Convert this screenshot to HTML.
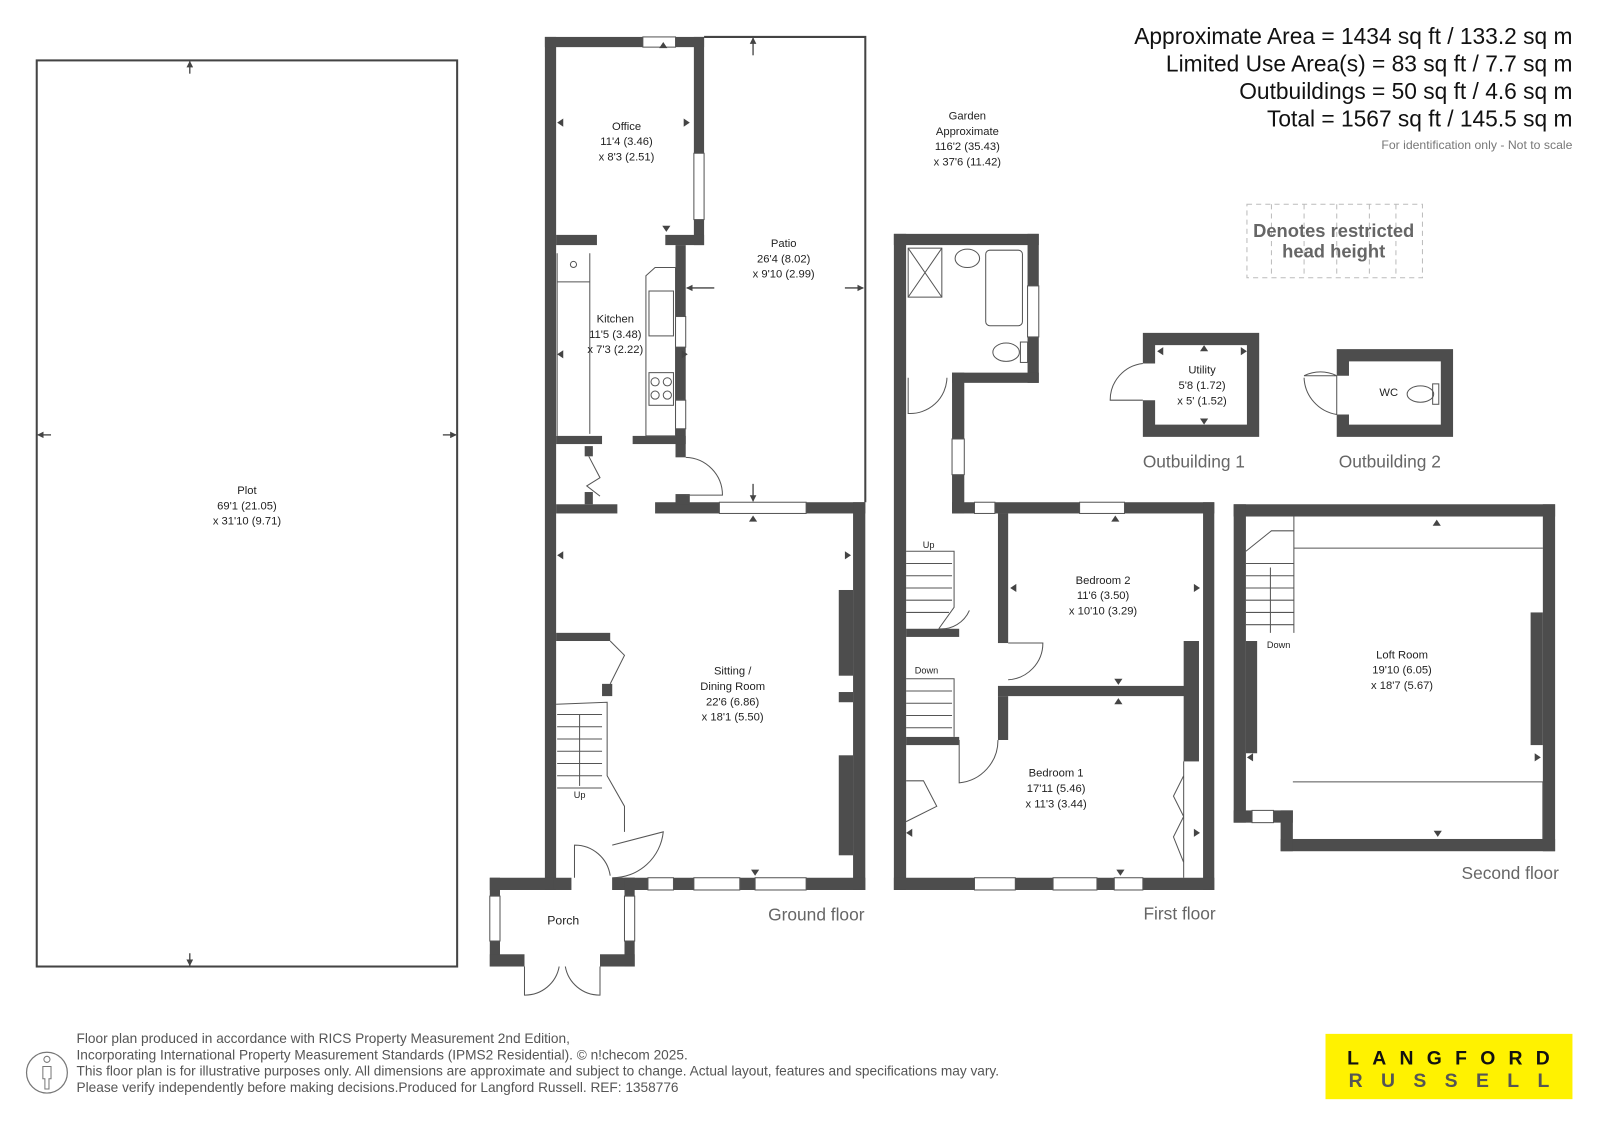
<!DOCTYPE html>
<html><head><meta charset="utf-8"><style>
html,body{margin:0;padding:0;background:#fff}
svg{display:block}
text{font-family:"Liberation Sans",sans-serif}
</style></head><body>
<svg width="1600" height="1131" viewBox="0 0 1568 1108" xmlns="http://www.w3.org/2000/svg">
<defs>
<marker id="a" viewBox="0 0 10 10" refX="9" refY="5" markerWidth="5" markerHeight="5" orient="auto"><path d="M0,0L10,5L0,10z" fill="#444"/></marker>
</defs>
<!-- Plot -->
<rect x="36" y="59" width="412" height="888" fill="none" stroke="#444" stroke-width="2"/>
<g stroke="#444" stroke-width="1.3" marker-end="url(#a)">
<line x1="186" y1="72" x2="186" y2="60"/><line x1="186" y1="934" x2="186" y2="946"/>
<line x1="50" y1="426" x2="37" y2="426"/><line x1="434" y1="426" x2="447" y2="426"/>
<line x1="738" y1="54" x2="738" y2="37"/><line x1="738" y1="474" x2="738" y2="491"/>
<line x1="700" y1="282" x2="673" y2="282"/><line x1="828" y1="282" x2="846" y2="282"/>
</g>
<text x="242" y="484" font-size="11" text-anchor="middle" fill="#222">Plot</text>
<text x="242" y="499" font-size="11" text-anchor="middle" fill="#222">69'1 (21.05)</text>
<text x="242" y="514" font-size="11" text-anchor="middle" fill="#222">x 31'10 (9.71)</text>

<!-- Ground floor -->
<polyline points="690,36 848,36 848,492" fill="none" stroke="#444" stroke-width="2"/>
<g fill="#4d4d4d">
<rect x="534" y="36" width="11" height="836"/>
<rect x="534" y="36" width="96" height="10"/><rect x="662" y="36" width="28" height="10"/>
<rect x="680" y="36" width="10" height="114"/><rect x="680" y="215" width="10" height="25"/>
<rect x="545" y="230" width="40" height="10"/><rect x="652" y="230" width="38" height="10"/>
<rect x="662" y="240" width="10" height="70"/><rect x="662" y="340" width="10" height="52"/><rect x="662" y="420" width="10" height="28"/>
<rect x="545" y="427" width="45" height="8"/><rect x="620" y="427" width="52" height="8"/>
<rect x="545" y="494" width="60" height="9"/><rect x="642" y="492" width="63" height="11"/><rect x="790" y="492" width="58" height="11"/>
<rect x="662" y="484" width="14" height="10"/>
<rect x="836" y="492" width="12" height="380"/>
<rect x="822" y="578" width="14" height="84"/><rect x="822" y="678" width="14" height="10"/><rect x="822" y="740" width="14" height="98"/>
<rect x="534" y="860" width="26" height="12"/><rect x="600" y="860" width="35" height="12"/><rect x="660" y="860" width="20" height="12"/><rect x="725" y="860" width="15" height="12"/><rect x="790" y="860" width="58" height="12"/>
<rect x="545" y="620" width="53" height="8"/><rect x="590" y="670" width="10" height="12"/>
<rect x="573" y="437" width="8" height="10"/><rect x="573" y="482" width="8" height="12"/>
<!-- porch -->
<rect x="480" y="860" width="62" height="12"/><rect x="600" y="860" width="22" height="12"/>
<rect x="480" y="860" width="10" height="18"/><rect x="612" y="860" width="10" height="18"/>
<rect x="480" y="922" width="10" height="25"/><rect x="612" y="922" width="10" height="25"/>
<rect x="480" y="935" width="34" height="12"/><rect x="588" y="935" width="34" height="12"/>
</g>
<g fill="none" stroke="#555" stroke-width="1">
<rect x="630" y="36" width="32" height="10"/><rect x="680" y="150" width="10" height="65"/>
<rect x="662" y="310" width="10" height="30"/><rect x="662" y="392" width="10" height="28"/>
<rect x="705" y="492" width="85" height="11"/>
<rect x="635" y="860" width="25" height="12"/><rect x="680" y="860" width="45" height="12"/><rect x="740" y="860" width="50" height="12"/>
<rect x="480" y="878" width="10" height="44"/><rect x="612" y="878" width="10" height="44"/>
<path d="M672,448 A37,37 0 0 1 708,485 L672,485"/>
<path d="M600,828 L650,815 A50,50 0 0 1 600,860"/>
<path d="M563,860 L563,828 A35,35 0 0 1 598,858"/>
<path d="M514,947 L514,975 A34,34 0 0 0 548,947 M588,947 L588,975 A34,34 0 0 1 554,947"/>
<path d="M598,628 L612,642 L598,670"/>
<path d="M577,447 L588,468 L575,476 L588,486"/>
<path d="M546,248 L546,427 M546,276 L578,276 M578,248 L578,425"/>
<circle cx="562" cy="259" r="3"/>
<path d="M633,270 L642,262 L662,262 L662,427 L633,427 Z"/>
<rect x="636" y="285" width="24" height="44"/><rect x="636" y="365" width="24" height="32"/>
<circle cx="642" cy="374" r="4"/><circle cx="654" cy="374" r="4"/><circle cx="642" cy="387" r="4"/><circle cx="654" cy="387" r="4"/>
<path d="M545,690 L595,688 L595,760 L612,790 L612,815 M546,700 L590,700 M546,712 L590,712 M546,724 L590,724 M546,736 L590,736 M546,748 L590,748 M546,760 L590,760 M546,772 L590,772"/>
<line x1="568" y1="700" x2="568" y2="770"/>
</g>
<text x="614" y="127" font-size="11" text-anchor="middle" fill="#222">Office</text>
<text x="614" y="142" font-size="11" text-anchor="middle" fill="#222">11'4 (3.46)</text>
<text x="614" y="157" font-size="11" text-anchor="middle" fill="#222">x 8'3 (2.51)</text>
<text x="603" y="316" font-size="11" text-anchor="middle" fill="#222">Kitchen</text>
<text x="603" y="331" font-size="11" text-anchor="middle" fill="#222">11'5 (3.48)</text>
<text x="603" y="346" font-size="11" text-anchor="middle" fill="#222">x 7'3 (2.22)</text>
<text x="768" y="242" font-size="11" text-anchor="middle" fill="#222">Patio</text>
<text x="768" y="257" font-size="11" text-anchor="middle" fill="#222">26'4 (8.02)</text>
<text x="768" y="272" font-size="11" text-anchor="middle" fill="#222">x 9'10 (2.99)</text>
<text x="718" y="661" font-size="11" text-anchor="middle" fill="#222">Sitting /</text>
<text x="718" y="676" font-size="11" text-anchor="middle" fill="#222">Dining Room</text>
<text x="718" y="691" font-size="11" text-anchor="middle" fill="#222">22'6 (6.86)</text>
<text x="718" y="706" font-size="11" text-anchor="middle" fill="#222">x 18'1 (5.50)</text>
<text x="568" y="782" font-size="9" text-anchor="middle" fill="#222">Up</text>
<text x="552" y="906" font-size="12" text-anchor="middle" fill="#222">Porch</text>
<text x="800" y="902" font-size="17" text-anchor="middle" fill="#666">Ground floor</text>
<text x="948" y="117" font-size="11" text-anchor="middle" fill="#222">Garden</text>
<text x="948" y="132" font-size="11" text-anchor="middle" fill="#222">Approximate</text>
<text x="948" y="147" font-size="11" text-anchor="middle" fill="#222">116'2 (35.43)</text>
<text x="948" y="162" font-size="11" text-anchor="middle" fill="#222">x 37'6 (11.42)</text>

<!-- First floor -->
<g fill="#4d4d4d">
<rect x="876" y="229" width="142" height="11"/>
<rect x="876" y="229" width="12" height="643"/>
<rect x="1007" y="229" width="11" height="51"/><rect x="1007" y="330" width="11" height="45"/>
<rect x="933" y="365" width="85" height="10"/>
<rect x="933" y="365" width="12" height="65"/><rect x="933" y="465" width="12" height="38"/>
<rect x="933" y="492" width="22" height="11"/><rect x="975" y="492" width="83" height="11"/><rect x="1102" y="492" width="88" height="11"/>
<rect x="1179" y="492" width="11" height="380"/>
<rect x="876" y="860" width="79" height="12"/><rect x="995" y="860" width="37" height="12"/><rect x="1075" y="860" width="17" height="12"/><rect x="1120" y="860" width="70" height="12"/>
<rect x="978" y="503" width="10" height="127"/>
<rect x="978" y="672" width="190" height="10"/><rect x="978" y="682" width="10" height="43"/>
<rect x="1160" y="628" width="15" height="118"/>
<rect x="888" y="616" width="52" height="8"/><rect x="888" y="722" width="52" height="8"/>
</g>
<g fill="none" stroke="#555" stroke-width="1">
<rect x="1007" y="280" width="11" height="50"/><rect x="933" y="430" width="12" height="35"/>
<rect x="955" y="492" width="20" height="11"/><rect x="1058" y="492" width="44" height="11"/>
<rect x="955" y="860" width="40" height="12"/><rect x="1032" y="860" width="43" height="12"/><rect x="1092" y="860" width="28" height="12"/>
<rect x="890" y="243" width="33" height="48"/><path d="M890,243 L923,291 M923,243 L890,291"/>
<rect x="966" y="245" width="36" height="74" rx="4"/><ellipse cx="948" cy="253" rx="12" ry="9"/>
<ellipse cx="986" cy="345" rx="13" ry="9"/><rect x="1000" y="335" width="7" height="20"/>
<path d="M890,370 L890,405 A36,36 0 0 0 928,370"/>
<path d="M988,630 L1022,630 A36,36 0 0 1 988,666"/>
<path d="M940,725 L940,767 A42,42 0 0 0 978,725"/>
<path d="M888,765 L905,765 L918,790 L888,805"/>
<path d="M1160,746 L1160,860 M1160,760 L1150,780 L1160,800 L1150,820 L1160,845"/>
<path d="M888,540 L935,540 L935,595 L920,616 M888,552 L933,552 M888,564 L933,564 M888,576 L933,576 M888,588 L933,588 M888,600 L930,600"/>
<path d="M920,616 A30,30 0 0 0 950,598"/>
<path d="M888,665 L935,665 L935,722 M888,677 L933,677 M888,689 L933,689 M888,701 L933,701 M888,713 L933,713"/>
</g>
<text x="910" y="537" font-size="9" text-anchor="middle" fill="#222">Up</text>
<text x="908" y="660" font-size="9" text-anchor="middle" fill="#222">Down</text>
<text x="1081" y="572" font-size="11" text-anchor="middle" fill="#222">Bedroom 2</text>
<text x="1081" y="587" font-size="11" text-anchor="middle" fill="#222">11'6 (3.50)</text>
<text x="1081" y="602" font-size="11" text-anchor="middle" fill="#222">x 10'10 (3.29)</text>
<text x="1035" y="761" font-size="11" text-anchor="middle" fill="#222">Bedroom 1</text>
<text x="1035" y="776" font-size="11" text-anchor="middle" fill="#222">17'11 (5.46)</text>
<text x="1035" y="791" font-size="11" text-anchor="middle" fill="#222">x 11'3 (3.44)</text>
<text x="1156" y="901" font-size="17" text-anchor="middle" fill="#666">First floor</text>

<!-- Outbuildings -->
<g fill="none" stroke="#4d4d4d" stroke-width="12">
<path d="M1126,356 L1126,332 L1228,332 L1228,422 L1126,422 L1126,392"/>
<path d="M1316,368 L1316,348 L1418,348 L1418,422 L1316,422 L1316,406"/>
</g>
<g fill="none" stroke="#555" stroke-width="1">
<path d="M1120,356 A36,36 0 0 0 1088,392 L1120,392"/>
<path d="M1310,368 A36,36 0 0 0 1278,368 L1310,368 M1310,368 L1310,406 A38,38 0 0 1 1278,370"/>
<ellipse cx="1392" cy="386" rx="13" ry="8"/><rect x="1404" y="376" width="6" height="20"/>
</g>
<text x="1178" y="366" font-size="11" text-anchor="middle" fill="#222">Utility</text>
<text x="1178" y="381" font-size="11" text-anchor="middle" fill="#222">5'8 (1.72)</text>
<text x="1178" y="396" font-size="11" text-anchor="middle" fill="#222">x 5' (1.52)</text>
<text x="1361" y="388" font-size="11" text-anchor="middle" fill="#222">WC</text>
<text x="1170" y="458" font-size="17" text-anchor="middle" fill="#666">Outbuilding 1</text>
<text x="1362" y="458" font-size="17" text-anchor="middle" fill="#666">Outbuilding 2</text>

<!-- Second floor -->
<g fill="#4d4d4d">
<rect x="1209" y="494" width="315" height="12"/>
<rect x="1209" y="494" width="12" height="312"/>
<rect x="1512" y="494" width="12" height="340"/>
<rect x="1209" y="794" width="18" height="12"/><rect x="1248" y="794" width="19" height="12"/>
<rect x="1255" y="822" width="269" height="12"/><rect x="1255" y="794" width="12" height="40"/>
<rect x="1221" y="628" width="11" height="110"/><rect x="1500" y="600" width="12" height="130"/>
</g>
<g fill="none" stroke="#555" stroke-width="1">
<rect x="1227" y="794" width="21" height="12"/>
<path d="M1268,506 L1268,620 M1268,537 L1512,537 M1267,766 L1512,766 L1512,822"/>
<path d="M1221,540 L1246,520 L1268,520 M1221,552 L1268,552 M1221,564 L1268,564 M1221,576 L1268,576 M1221,588 L1268,588 M1221,600 L1268,600 M1221,612 L1268,612"/>
<line x1="1245" y1="556" x2="1245" y2="620"/>
</g>
<text x="1253" y="635" font-size="9" text-anchor="middle" fill="#222">Down</text>
<text x="1374" y="645" font-size="11" text-anchor="middle" fill="#222">Loft Room</text>
<text x="1374" y="660" font-size="11" text-anchor="middle" fill="#222">19'10 (6.05)</text>
<text x="1374" y="675" font-size="11" text-anchor="middle" fill="#222">x 18'7 (5.67)</text>
<text x="1480" y="861" font-size="17" text-anchor="middle" fill="#666">Second floor</text>

<!-- small arrowheads -->
<g fill="#444">
<path d="M646,47 l4,-6 l4,6z"/><path d="M649,221 l4,6 l4,-6z"/>
<path d="M552,116 l-6,4 l6,4z"/><path d="M670,116 l6,4 l-6,4z"/>
<path d="M552,343 l-6,4 l6,4z"/><path d="M668,343 l6,4 l-6,4z"/>
<path d="M552,540 l-6,4 l6,4z"/><path d="M828,540 l6,4 l-6,4z"/>
<path d="M734,511 l4,-6 l4,6z"/><path d="M736,852 l4,6 l4,-6z"/>
<path d="M1089,511 l4,-6 l4,6z"/><path d="M1092,665 l4,6 l4,-6z"/>
<path d="M996,572 l-6,4 l6,4z"/><path d="M1170,572 l6,4 l-6,4z"/>
<path d="M1092,690 l4,-6 l4,6z"/><path d="M1094,852 l4,6 l4,-6z"/>
<path d="M894,812 l-6,4 l6,4z"/><path d="M1170,812 l6,4 l-6,4z"/>
<path d="M1176,344 l4,-6 l4,6z"/><path d="M1176,410 l4,6 l4,-6z"/>
<path d="M1140,340 l-6,4 l6,4z"/><path d="M1216,340 l6,4 l-6,4z"/>
<path d="M1404,515 l4,-6 l4,6z"/><path d="M1405,814 l4,6 l4,-6z"/>
<path d="M1228,738 l-6,4 l6,4z"/><path d="M1504,738 l6,4 l-6,4z"/>
</g>

<!-- header text -->
<g font-size="22.3" text-anchor="end" fill="#111">
<text x="1541" y="43">Approximate Area = 1434 sq ft / 133.2 sq m</text>
<text x="1541" y="70">Limited Use Area(s) = 83 sq ft / 7.7 sq m</text>
<text x="1541" y="97">Outbuildings = 50 sq ft / 4.6 sq m</text>
<text x="1541" y="124">Total = 1567 sq ft / 145.5 sq m</text>
</g>
<text x="1541" y="146" font-size="12" text-anchor="end" fill="#777">For identification only - Not to scale</text>
<g fill="none" stroke="#bbb" stroke-width="1" stroke-dasharray="5,4">
<rect x="1222" y="200" width="172" height="72"/>
<path d="M1246,200 V272 M1278,200 V272 M1310,200 V272 M1342,200 V272 M1368,200 V272"/>
</g>
<text x="1307" y="232" font-size="18" font-weight="bold" text-anchor="middle" fill="#666">Denotes restricted</text>
<text x="1307" y="252" font-size="18" font-weight="bold" text-anchor="middle" fill="#666">head height</text>

<!-- footer -->
<g font-size="13.4" fill="#555">
<text x="75" y="1022">Floor plan produced in accordance with RICS Property Measurement 2nd Edition,</text>
<text x="75" y="1038">Incorporating International Property Measurement Standards (IPMS2 Residential).   © n!checom 2025.</text>
<text x="75" y="1054">This floor plan is for illustrative purposes only. All dimensions are approximate and subject to change. Actual layout, features and specifications may vary.</text>
<text x="75" y="1070">Please verify independently before making decisions.Produced for Langford Russell.    REF: 1358776</text>
</g>
<circle cx="46" cy="1051" r="20" fill="none" stroke="#777" stroke-width="1.2"/>
<path d="M43,1038 a3,3 0 1 1 6,0 a3,3 0 1 1 -6,0 M42,1045 h8 v12 h-2 v10 h-4 v-10 h-2z" fill="none" stroke="#777"/>
<rect x="1299" y="1013" width="242" height="64" fill="#fff200"/>
<text x="1426" y="1043" font-size="19" font-weight="bold" text-anchor="middle" fill="#111" letter-spacing="13">LANGFORD</text>
<text x="1429" y="1065" font-size="19" font-weight="bold" text-anchor="middle" fill="#555" letter-spacing="18">RUSSELL</text>
</svg>
</body></html>
